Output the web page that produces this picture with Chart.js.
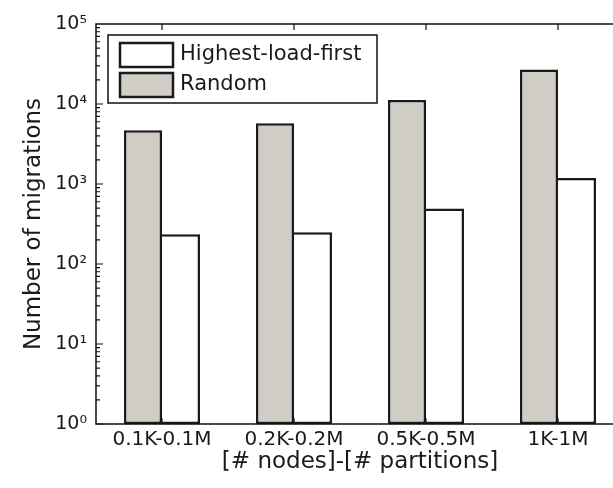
<!DOCTYPE html>
<html>
<head>
<meta charset="utf-8">
<script src="https://cdn.jsdelivr.net/npm/chart.js@4/dist/chart.umd.min.js"></script>
<style>
  html, body { margin: 0; padding: 0; background: #fff; overflow: hidden; }
  #wrap { width: 640px; height: 488px; }
</style>
</head>
<body>
<div id="wrap">
  <canvas id="migrationsChart" width="640" height="488"></canvas>
</div>
<script>
const categories = ['0.1K-0.1M', '0.2K-0.2M', '0.5K-0.5M', '1K-1M'];
const randomMigrations = [4700, 5750, 11200, 27000];
const highestLoadFirst = [235, 250, 495, 1190];
const yTicks = [1, 10, 100, 1000, 10000, 100000];
const supers = ['\u2070', '\u00b9', '\u00b2', '\u00b3', '\u2074', '\u2075'];

const axisColor = '#111';
const textColor = '#1a1a1a';

// matlab style frame: box around the plot, ticks pointing inwards, minor log ticks
const framePlugin = {
  id: 'frame',
  afterDatasetsDraw(chart) {
    const { ctx, chartArea: a, scales: { x, y } } = chart;
    ctx.save();
    ctx.strokeStyle = axisColor;
    ctx.lineWidth = 1.5;
    ctx.strokeRect(a.left, a.top, a.right - a.left, a.bottom - a.top);

    ctx.lineWidth = 1.2;
    ctx.beginPath();
    for (let d = 0; d < 5; d++) {
      const base = Math.pow(10, d);
      for (let k = 1; k <= 9; k++) {
        const py = y.getPixelForValue(base * k);
        const len = k === 1 ? 7 : 4;
        ctx.moveTo(a.left, py); ctx.lineTo(a.left + len, py);
        ctx.moveTo(a.right, py); ctx.lineTo(a.right - len, py);
      }
    }
    categories.forEach((c, i) => {
      const px = x.getPixelForTick(i);
      ctx.moveTo(px, a.top); ctx.lineTo(px, a.top + 6);
      ctx.moveTo(px, a.bottom); ctx.lineTo(px, a.bottom - 6);
    });
    ctx.stroke();
    ctx.restore();
  }
};

// legend box drawn inside the plot, upper left corner
const boxLegend = {
  id: 'boxLegend',
  afterDraw(chart) {
    const { ctx } = chart;
    const sets = chart.data.datasets.slice().reverse();
    ctx.save();
    ctx.fillStyle = '#fff';
    ctx.fillRect(108, 35, 269, 68);
    ctx.strokeStyle = axisColor;
    ctx.lineWidth = 1.5;
    ctx.strokeRect(108, 35, 269, 68);
    ctx.font = '21px "DejaVu Sans"';
    ctx.textBaseline = 'middle';
    sets.forEach((ds, i) => {
      const top = 43 + i * 30;
      ctx.fillStyle = ds.backgroundColor;
      ctx.fillRect(120, top, 53, 24);
      ctx.lineWidth = 2.5;
      ctx.strokeStyle = ds.borderColor;
      ctx.strokeRect(120, top, 53, 24);
      ctx.fillStyle = textColor;
      ctx.fillText(ds.label, 180, top + 12);
    });
    ctx.restore();
  }
};

const ctx = document.getElementById('migrationsChart').getContext('2d');
new Chart(ctx, {
  type: 'bar',
  data: {
    labels: categories,
    datasets: [{
      label: 'Random',
      data: randomMigrations,
      backgroundColor: '#d0ccc6',
      borderColor: '#1a1a1a',
      borderWidth: 2.5,
      borderSkipped: false,
      categoryPercentage: 0.576,
      barPercentage: 1.0
    }, {
      label: 'Highest-load-first',
      data: highestLoadFirst,
      backgroundColor: '#ffffff',
      borderColor: '#1a1a1a',
      borderWidth: 2.5,
      // shares its left edge with the grey bar next to it
      borderSkipped: 'left',
      categoryPercentage: 0.576,
      barPercentage: 1.0
    }]
  },
  options: {
    responsive: false,
    animation: false,
    layout: { padding: { top: 24, right: 16, left: 0, bottom: 0 } },
    plugins: {
      legend: { display: false },
      tooltip: { enabled: false }
    },
    scales: {
      x: {
        grid: { display: false, drawTicks: false },
        border: { display: false },
        ticks: {
          color: textColor,
          font: { family: 'DejaVu Sans', size: 20 },
          padding: 4,
          maxRotation: 0
        },
        title: {
          display: true,
          text: '[# nodes]-[# partitions]',
          color: textColor,
          font: { family: 'DejaVu Sans', size: 23 },
          padding: { top: 0, bottom: 12 }
        },
        afterFit(scale) { scale.height = 64; }
      },
      y: {
        type: 'logarithmic',
        min: 1,
        max: 100000,
        grid: { display: false, drawTicks: false },
        border: { display: false },
        afterBuildTicks(scale) {
          scale.ticks = yTicks.map(v => ({ value: v }));
        },
        ticks: {
          color: textColor,
          font: { family: 'DejaVu Sans', size: 19 },
          padding: 9,
          callback: (v) => '10' + supers[Math.round(Math.log10(v))]
        },
        title: {
          display: true,
          text: 'Number of migrations',
          color: textColor,
          font: { family: 'DejaVu Sans', size: 23 },
          padding: { top: 20, bottom: 0 }
        },
        afterFit(scale) { scale.width = 96; }
      }
    }
  },
  plugins: [framePlugin, boxLegend]
});
</script>
</body>
</html>
